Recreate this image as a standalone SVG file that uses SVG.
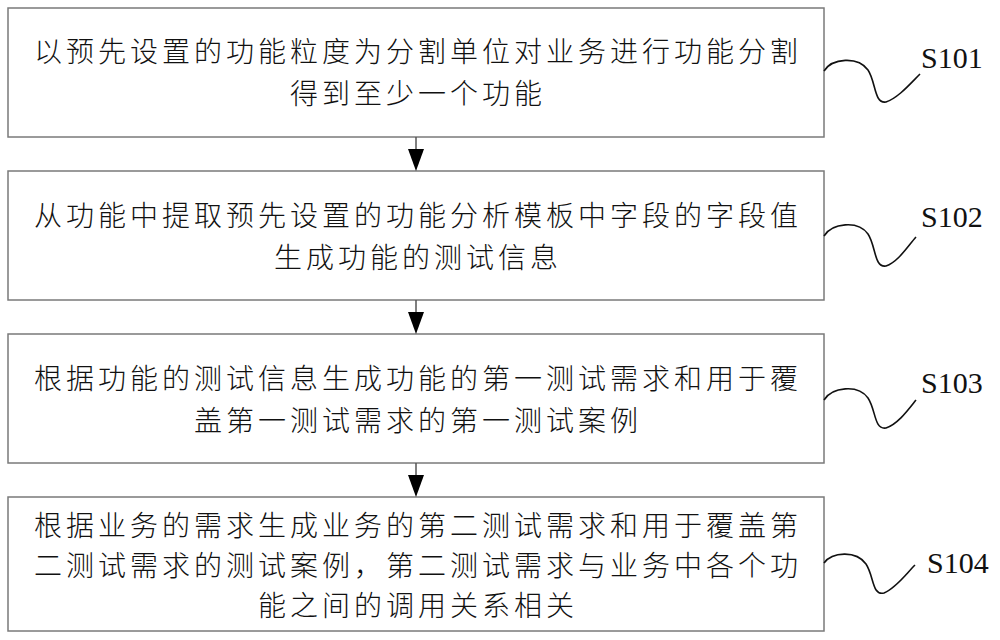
<svg xmlns="http://www.w3.org/2000/svg" width="1000" height="640" viewBox="0 0 1000 640">
<style>
.box{fill:#fff;stroke:#7a7a7a;stroke-width:1.5}
.t{font-family:"Liberation Serif","Noto Sans CJK SC",serif;font-size:28px;font-weight:300;letter-spacing:4px;fill:#111;text-anchor:middle}
.lab{font-family:"Liberation Serif",serif;font-size:30px;fill:#111}
.sq{fill:none;stroke:#111;stroke-width:1.6}
.ln{stroke:#555;stroke-width:1.5}
.ah{fill:#000}
</style>
<rect width="1000" height="640" fill="#fff"/>
<g id="n1">
<rect class="box" x="8" y="8" width="816" height="129"/>
<text class="t" x="418" y="62">以预先设置的功能粒度为分割单位对业务进行功能分割</text>
<text class="t" x="418" y="104">得到至少一个功能</text>
<path class="sq" d="M824,71 C832,58 858,56 868,70 C876,82 874,104 886,102 C898,98 910,84 920,74"/>
<text class="lab" x="921" y="68">S101</text>
</g>
<g id="n2">
<rect class="box" x="8" y="171" width="816" height="129"/>
<text class="t" x="418" y="226">从功能中提取预先设置的功能分析模板中字段的字段值</text>
<text class="t" x="418" y="268">生成功能的测试信息</text>
<path class="sq" d="M824,236 C832,223 858,220 868,234 C876,246 874,268 886,266 C898,262 908,246 916,237"/>
<text class="lab" x="921" y="227">S102</text>
</g>
<g id="n3">
<rect class="box" x="8" y="334" width="816" height="129"/>
<text class="t" x="418" y="389">根据功能的测试信息生成功能的第一测试需求和用于覆</text>
<text class="t" x="418" y="431">盖第一测试需求的第一测试案例</text>
<path class="sq" d="M824,400 C832,387 858,384 868,398 C876,410 874,430 886,428 C898,424 908,410 916,400"/>
<text class="lab" x="921" y="393">S103</text>
</g>
<g id="n4">
<rect class="box" x="8" y="497" width="816" height="134"/>
<text class="t" x="418" y="536">根据业务的需求生成业务的第二测试需求和用于覆盖第</text>
<text class="t" x="418" y="576">二测试需求的测试案例，第二测试需求与业务中各个功</text>
<text class="t" x="418" y="616">能之间的调用关系相关</text>
<path class="sq" d="M824,563 C832,552 856,550 866,564 C874,576 872,596 884,593 C896,588 906,574 915,565"/>
<text class="lab" x="927" y="573">S104</text>
</g>
<g id="connectors">
<line class="ln" x1="416" y1="137" x2="416" y2="150"/>
<polygon class="ah" points="408,149 424,149 416,171"/>
<line class="ln" x1="416" y1="300" x2="416" y2="313"/>
<polygon class="ah" points="408,312 424,312 416,334"/>
<line class="ln" x1="416" y1="463" x2="416" y2="476"/>
<polygon class="ah" points="408,475 424,475 416,497"/>
</g>
</svg>
